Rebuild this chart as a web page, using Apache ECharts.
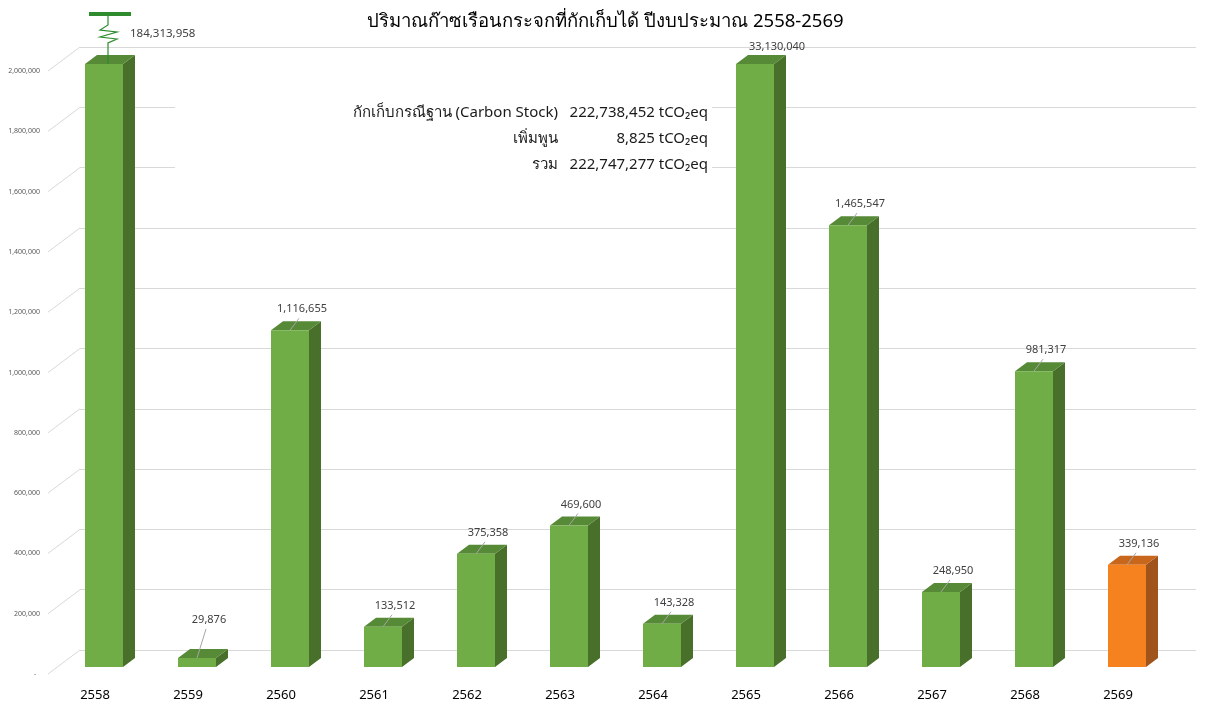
<!DOCTYPE html>
<html>
<head>
<meta charset="utf-8">
<script src="https://cdn.jsdelivr.net/npm/echarts@6/dist/echarts.min.js"></script>
<style>
html,body{margin:0;padding:0;background:#fff;}
#chart{width:1211px;height:711px;}
</style>
</head>
<body>
<div id="chart"></div>
<script>
const chartTitle = 'ปริมาณก๊าซเรือนกระจกที่กักเก็บได้ ปีงบประมาณ 2558-2569';
const categories = ['2558','2559','2560','2561','2562','2563','2564','2565','2566','2567','2568','2569'];
const values = [184313958, 29876, 1116655, 133512, 375358, 469600, 143328, 33130040, 1465547, 248950, 981317, 339136];
const highlightCategories = ['2569'];
const brokenCategories = ['2558'];
const yTickValues = [0, 200000, 400000, 600000, 800000, 1000000, 1200000, 1400000, 1600000, 1800000, 2000000];
const summaryLabels = ['กักเก็บกรณีฐาน (Carbon Stock)', 'เพิ่มพูน', 'รวม'];
const summaryValues = ['222,738,452 tCO₂eq', '8,825 tCO₂eq', '222,747,277 tCO₂eq'];

const Y_MIN = 0, Y_MAX = 2000000, Y_INTERVAL = 200000;
const FONT = '"Noto Sans", "DejaVu Sans", sans-serif';
const fmt = n => n.toLocaleString('en-US');

const chart = echarts.init(document.getElementById('chart'));

function renderBar(params, api) {
  const i = api.value(0);
  const v = api.value(1);
  const cat = categories[i];
  const shown = Math.min(v, Y_MAX);
  const base = api.coord([i, 0]);
  const topP = api.coord([i, shown]);
  const w = 38, dx = 12, dy = 9;
  const x = base[0] - 10;
  const yb = base[1], yt = topP[1];
  const hi = highlightCategories.includes(cat);
  const cFront = hi ? '#f6821f' : '#70ad47';
  const cTop = hi ? '#c8661c' : '#568a36';
  const cSide = hi ? '#a0531a' : '#48702b';
  const children = [
    {type:'polygon', shape:{points:[[x+w,yt],[x+w+dx,yt-dy],[x+w+dx,yb-dy],[x+w,yb]]}, style:{fill:cSide}},
    {type:'polygon', shape:{points:[[x,yt],[x+dx,yt-dy],[x+w+dx,yt-dy],[x+w,yt]]}, style:{fill:cTop}},
    {type:'rect', shape:{x:x, y:yt, width:w, height:yb-yt}, style:{fill:cFront}}
  ];
  const fc = x + w/2;
  if (brokenCategories.includes(cat)) {
    const g = '#2e8b2e';
    const cx = base[0] + 13;
    children.push({type:'rect', shape:{x:base[0]-6, y:yt-52, width:42, height:4}, style:{fill:g}});
    children.push({type:'polyline', shape:{points:[
      [cx,yt-48],[cx,yt-39],[cx-8,yt-34],[cx+9,yt-32],[cx-8,yt-27],[cx+9,yt-25],[cx,yt-21],[cx,yt]
    ]}, style:{stroke:g, lineWidth:1.2, fill:null}});
    children.push({type:'text', style:{text:fmt(v), x:base[0]+35, y:yt-30, align:'left', verticalAlign:'middle', fontSize:11.5, fontFamily:FONT, fill:'#404040'}});
  } else if (v > Y_MAX) {
    children.push({type:'text', style:{text:fmt(v), x:base[0]+31, y:yt-17, align:'center', verticalAlign:'middle', fontSize:11, fontFamily:FONT, fill:'#404040'}});
  } else {
    const ly = Math.min(yt - 21, yb - 47);
    const lx = base[0] + 21;
    children.push({type:'line', shape:{x1:fc, y1:yt, x2:lx-3, y2:ly+9}, style:{stroke:'#a6a6a6', lineWidth:1}});
    children.push({type:'text', style:{text:fmt(v), x:lx, y:ly, align:'center', verticalAlign:'middle', fontSize:11, fontFamily:FONT, fill:'#404040'}});
  }
  return {type:'group', children};
}

function renderDiag(params, api) {
  const p = api.coord([0, api.value(1)]);
  return {type:'line', shape:{x1:p[0]-32, y1:p[1]+24, x2:p[0], y2:p[1]}, style:{stroke:'#d9d9d9', lineWidth:1}};
}

const summaryGraphics = [{type:'rect', shape:{x:175, y:88, width:537, height:95}, style:{fill:'#ffffff'}, z:1}];
summaryLabels.forEach((t, k) => {
  summaryGraphics.push({type:'text', z:2, style:{text:t, x:558, y:113+26*k, align:'right', verticalAlign:'middle', fontSize:15, fontFamily:FONT, fill:'#1a1a1a'}});
  summaryGraphics.push({type:'text', z:2, style:{text:summaryValues[k], x:708, y:113+26*k, align:'right', verticalAlign:'middle', fontSize:15, fontFamily:FONT, fill:'#1a1a1a'}});
});

chart.setOption({
  animation:false,
  backgroundColor:'#ffffff',
  title:{text:chartTitle, left:'center', top:7, textStyle:{fontSize:18.5, fontWeight:'normal', color:'#000', fontFamily:FONT}},
  grid:[
    {left:48.5, right:46.5, top:64, bottom:44},
    {left:80, right:15, top:47, bottom:61},
    {left:44, right:15, top:71, bottom:37}
  ],
  xAxis:[
    {gridIndex:0, type:'category', data:categories, axisLine:{show:false}, axisTick:{show:false}, splitLine:{show:false},
     axisLabel:{fontSize:13, color:'#000', margin:22, fontFamily:FONT}},
    {gridIndex:1, type:'value', min:0, max:1, show:false},
    {gridIndex:2, type:'value', min:0, max:1, show:false}
  ],
  yAxis:[
    {gridIndex:0, type:'value', min:Y_MIN, max:Y_MAX, interval:Y_INTERVAL, show:false},
    {gridIndex:1, type:'value', min:Y_MIN, max:Y_MAX, interval:Y_INTERVAL, axisLine:{show:false}, axisTick:{show:false}, axisLabel:{show:false},
     splitLine:{show:true, lineStyle:{color:'#d9d9d9', width:1}}},
    {gridIndex:2, type:'value', min:Y_MIN, max:Y_MAX, interval:Y_INTERVAL, axisLine:{show:false}, axisTick:{show:false}, splitLine:{show:false},
     axisLabel:{fontSize:7, color:'#595959', margin:4, fontFamily:FONT, formatter: v => v === 0 ? '-  ' : fmt(v)}}
  ],
  graphic: summaryGraphics,
  series:[
    {type:'custom', xAxisIndex:1, yAxisIndex:1, renderItem:renderDiag, data:yTickValues.map(v => [0, v]), silent:true, z:1},
    {type:'custom', xAxisIndex:0, yAxisIndex:0, renderItem:renderBar, encode:{x:0, y:1}, clip:false,
     data:values.map((v, i) => [i, v]), z:5}
  ]
});
</script>
</body>
</html>
